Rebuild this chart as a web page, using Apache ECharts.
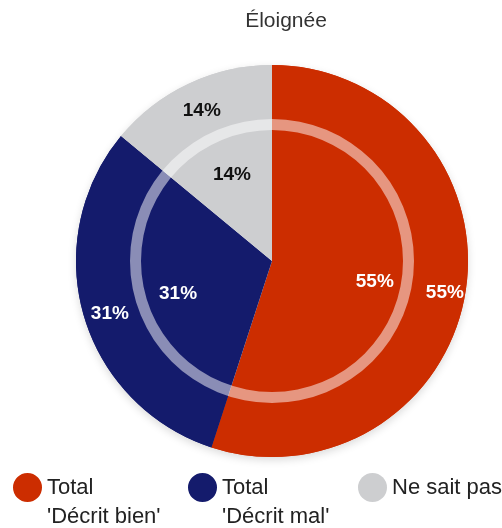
<!DOCTYPE html>
<html>
<head>
<meta charset="utf-8">
<script src="https://cdn.jsdelivr.net/npm/echarts@6/dist/echarts.min.js"></script>
<style>
  html, body { margin: 0; padding: 0; background: #fff; }
  #chart { width: 502px; height: 528px; }
</style>
</head>
<body>
<div id="chart"></div>
<script>
// Share of answers for the "Éloignée" item, two concentric rings
const chartTitle = 'Éloignée';
const categories = ["Total 'Décrit bien'", "Total 'Décrit mal'", 'Ne sait pas'];
const legendLabels = ["Total\n'Décrit bien'", "Total\n'Décrit mal'", 'Ne sait pas'];
const outerValues = [55, 31, 14];
const innerValues = [55, 31, 14];

const colors = ['#CC2D00', '#141B6C', '#CDCED0'];
const labelColors = ['#ffffff', '#ffffff', '#111111'];
const FONT = "'Liberation Sans', Arial, sans-serif";

const center = [272, 261];

function sliceData(values) {
  return values.map((v, i) => ({
    name: categories[i],
    value: v,
    itemStyle: { color: colors[i] },
    label: { color: labelColors[i] }
  }));
}

const pieLabel = {
  show: true,
  position: 'inside',
  formatter: '{c}%',
  fontFamily: FONT,
  fontSize: 19,
  fontWeight: 'bold',
  offset: [3, 5]
};

// circle sitting in the top half of a tall icon box, so a two-line
// legend text lines its first row up with the dot
const TALL_DOT = 'path://M0,14.5A14.5,14.5,0,1,1,29,14.5A14.5,14.5,0,1,1,0,14.5ZM14,58L15,58Z';

const legendLefts = [13, 188, 358];
const legends = categories.map((name, i) => {
  const twoLines = legendLabels[i].indexOf('\n') >= 0;
  return {
    data: [name],
    left: legendLefts[i],
    top: 473,
    padding: 0,
    icon: twoLines ? TALL_DOT : 'circle',
    itemWidth: 29,
    itemHeight: twoLines ? 58 : 29,
    itemGap: 0,
    selectedMode: false,
    formatter: () => legendLabels[i],
    textStyle: {
      fontFamily: FONT,
      fontSize: 22,
      lineHeight: 29,
      color: '#222222'
    }
  };
});

const chart = echarts.init(document.getElementById('chart'));
chart.setOption({
  animation: false,
  title: {
    text: chartTitle,
    left: 281,
    textAlign: 'center',
    top: 6,
    textStyle: { fontFamily: FONT, fontSize: 21, fontWeight: 'normal', color: '#333333' }
  },
  legend: legends,
  series: [
    {
      // soft shadow disc under the rings
      type: 'pie',
      center: center,
      radius: [0, 196],
      silent: true,
      z: 1,
      label: { show: false },
      labelLine: { show: false },
      data: [{ name: '', value: 1, itemStyle: { color: '#ffffff', shadowBlur: 8, shadowOffsetY: 3, shadowColor: 'rgba(0,0,0,0.15)' } }]
    },
    {
      type: 'pie',
      center: center,
      radius: [0, 196],
      startAngle: 90,
      clockwise: true,
      z: 2,
      emphasis: { scale: false },
      label: pieLabel,
      labelLine: { show: false },
      data: sliceData(innerValues)
    },
    {
      type: 'pie',
      center: center,
      radius: [142, 196],
      startAngle: 90,
      clockwise: true,
      z: 3,
      emphasis: { scale: false },
      label: pieLabel,
      labelLine: { show: false },
      data: sliceData(outerValues)
    },
    {
      // translucent separator ring between inner and outer values
      type: 'pie',
      center: center,
      radius: [131, 142],
      silent: true,
      z: 4,
      label: { show: false },
      labelLine: { show: false },
      data: [{ name: ' ', value: 1, itemStyle: { color: 'rgba(255,255,255,0.5)' } }]
    }
  ]
});
</script>
</body>
</html>
